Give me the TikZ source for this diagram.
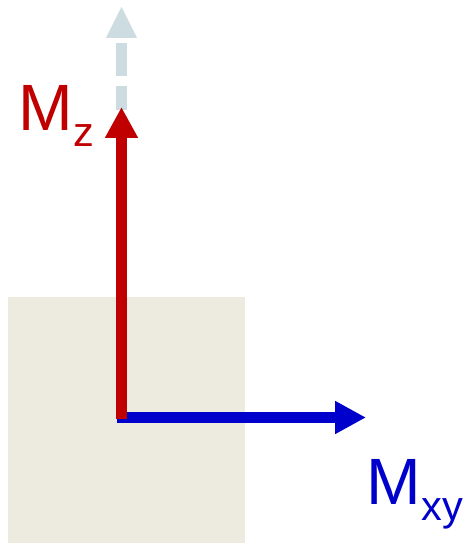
\documentclass[tikz,border=0pt]{standalone}
\usepackage{fontspec}
\setmainfont{Liberation Sans}
\usetikzlibrary{arrows.meta}
\definecolor{mzred}{RGB}{192,0,0}
\definecolor{mxyblue}{RGB}{0,0,204}
\definecolor{ghost}{RGB}{204,220,225}
\definecolor{beige}{RGB}{237,234,224}
\tikzset{
  vec/.style={line width=11pt, -{Triangle[length=31pt,width=31pt]}},
  biglabel/.style={anchor=base west, inner sep=0pt, outer sep=0pt},
}
\newcommand{\bigM}[1]{{\fontsize{65.5}{65.5}\selectfont M}\kern0.8pt\raisebox{-15.5pt}{\fontsize{41.5}{41.5}\selectfont #1}}
\begin{document}
\begin{tikzpicture}[x=1pt,y=1pt]
\useasboundingbox (0,0) rectangle (463,543);
% sample patch
\fill[beige] (8,0) rectangle (245,246);
% named points
\coordinate (origin) at (121.5,125.5);
\coordinate (ztip) at (121.5,436);
\coordinate (xytip) at (366,125.5);
\coordinate (ghostbase) at (121.5,505);
\coordinate (ghosttip) at (121.5,536);
\coordinate (ghostlow) at (121.5,433);
\coordinate (ghoststart) at (121.5,500);
% ghost (dashed) arrow
\draw[ghost, line width=11pt, dash pattern=on 33pt off 10pt] (ghoststart) -- (ghostlow);
\fill[ghost] ([xshift=-15.5pt]ghostbase) -- ([xshift=15.5pt]ghostbase) -- (ghosttip) -- cycle;
% Mxy arrow
\draw[mxyblue, vec] ([xshift=-4.5pt]origin) -- (xytip);
% Mz arrow
\draw[mzred, vec] ([yshift=-1.5pt]origin) -- (ztip);
% labels
\node[biglabel, text=mzred] (mz) at (18.3,412) {\bigM{z}};
\node[biglabel, text=mxyblue] (mxy) at (366,38) {\bigM{xy}};
\end{tikzpicture}
\end{document}
